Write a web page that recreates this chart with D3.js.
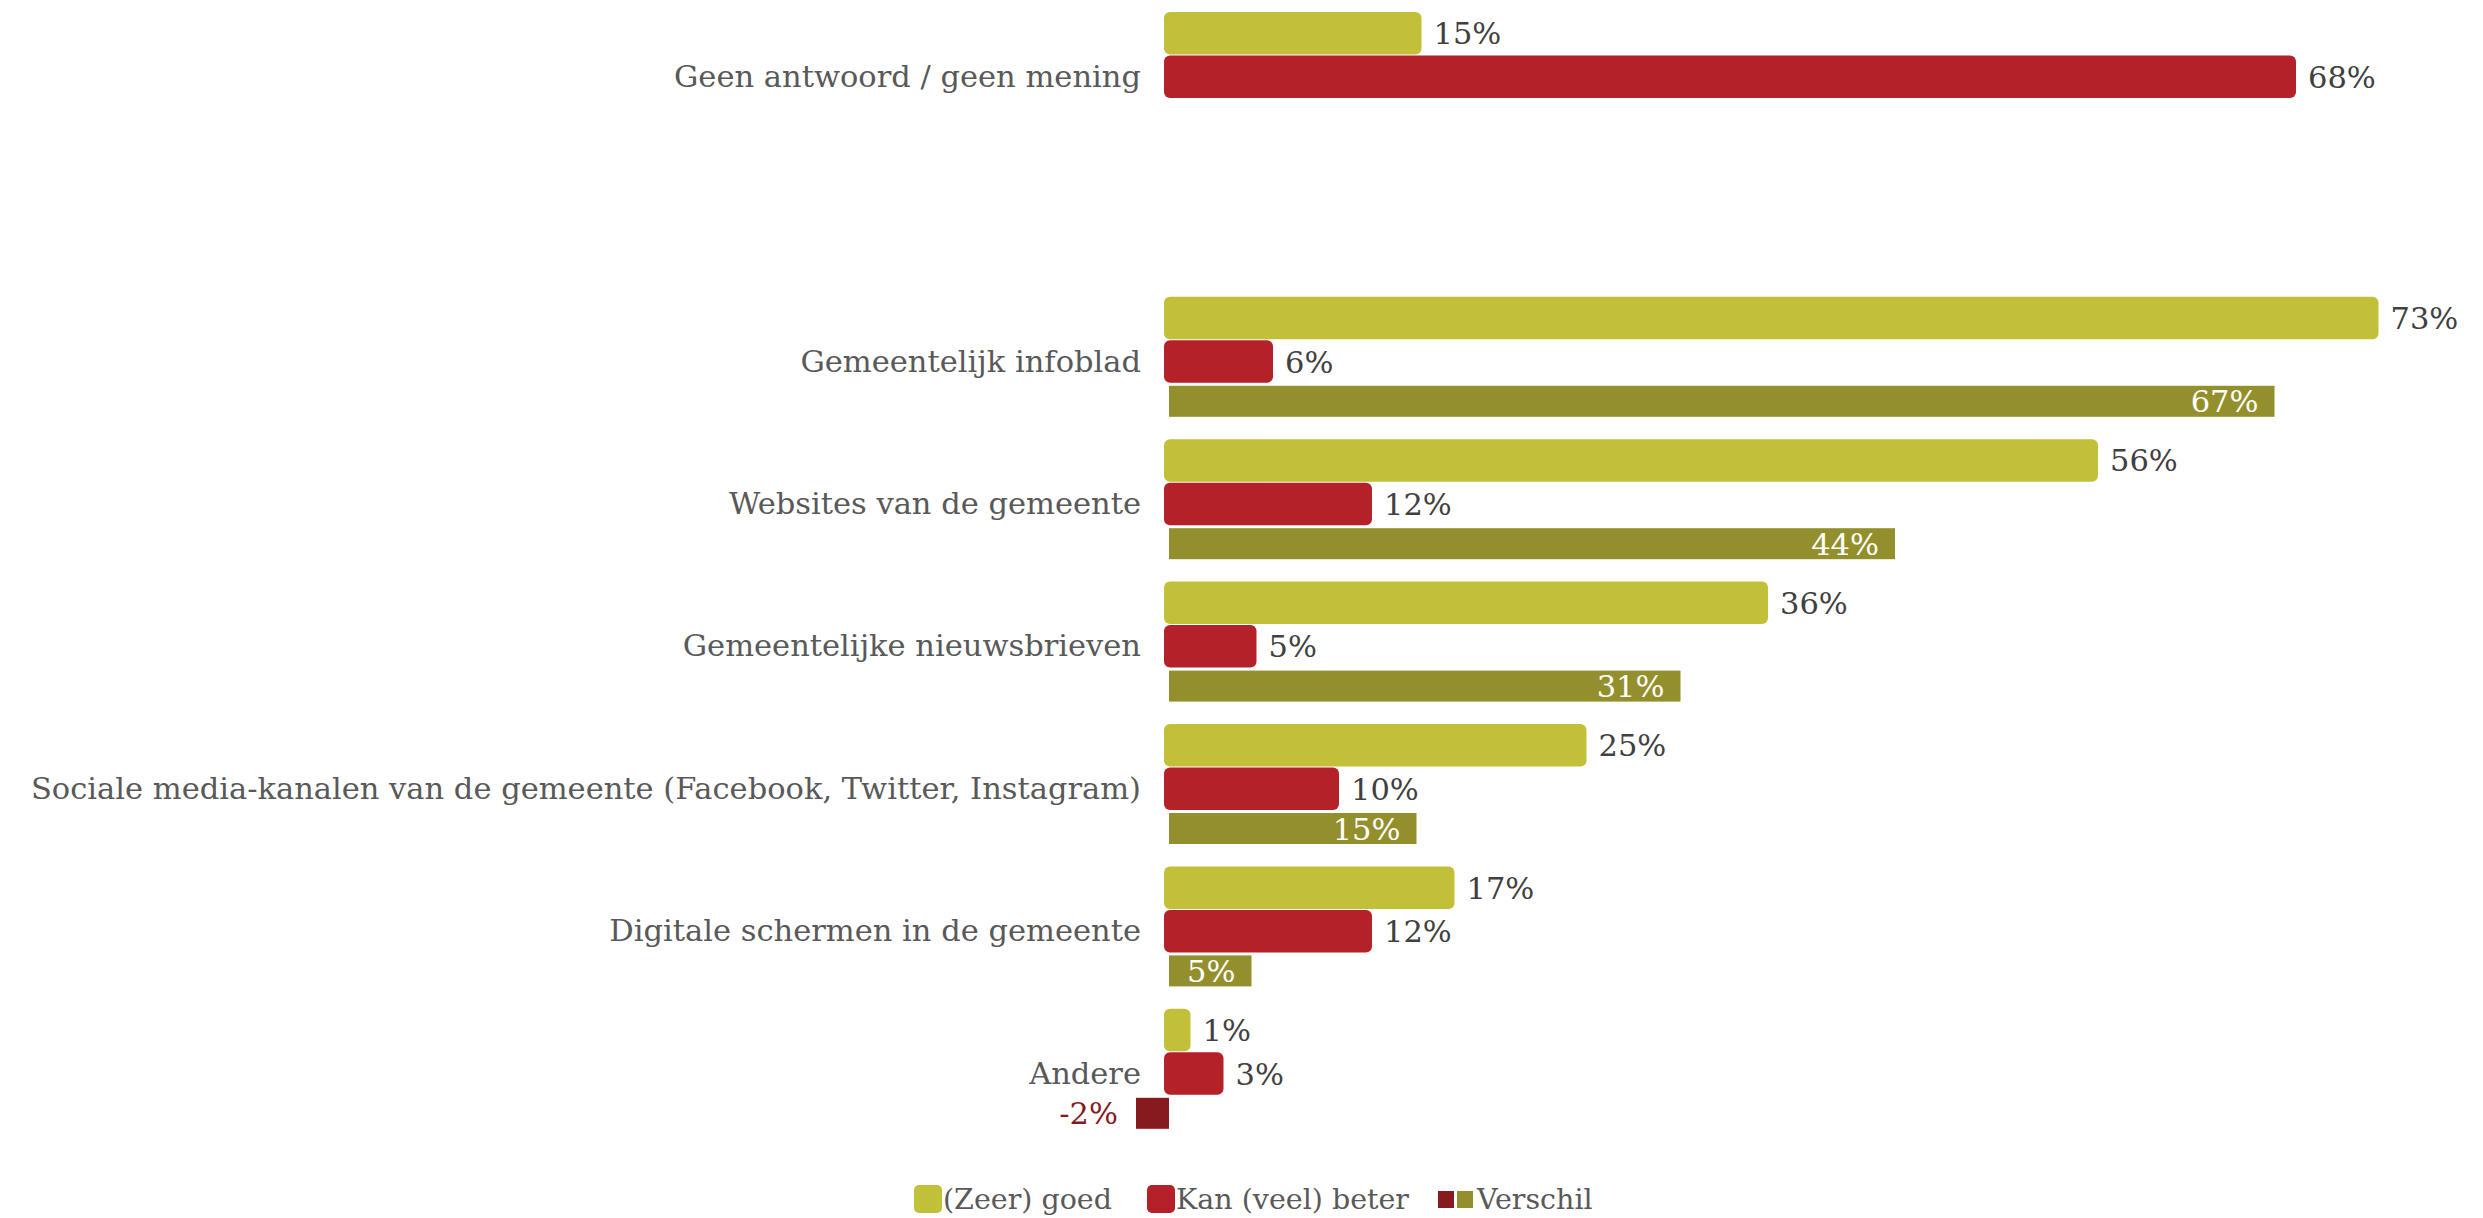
<!DOCTYPE html>
<html><head><meta charset="utf-8">
<script src="https://cdn.jsdelivr.net/npm/d3@7/dist/d3.min.js"></script>
<style>
html,body{margin:0;padding:0;background:#fff;}
svg{display:block;font-family:"DejaVu Serif",serif;}
</style></head>
<body>
<svg id="chart" width="2483" height="1218"></svg>
<script>
const categories = ["Geen antwoord / geen mening", "", "Gemeentelijk infoblad", "Websites van de gemeente", "Gemeentelijke nieuwsbrieven", "Sociale media-kanalen van de gemeente (Facebook, Twitter, Instagram)", "Digitale schermen in de gemeente", "Andere"];
const goed = [15, null, 73, 56, 36, 25, 17, 1];
const beter = [68, null, 6, 12, 5, 10, 12, 3];
const verschil = [null, null, 67, 44, 31, 15, 5, -2];
const seriesNames = ["(Zeer) goed", "Kan (veel) beter", "Verschil"];

const C = {goed:"#C2BF38", beter:"#B52129", vers:"#938F2C", neg:"#861A1E", label:"#595959", val:"#404040"};
const FS = 30.5;
const LFS = 28.5;
const svg = d3.select("#chart");

const x = d3.scaleLinear().domain([0, 100]).range([1169, 1169 + 1650]);
const y = d3.scaleBand().domain(categories).range([12, 12 + 8 * 142.4]).paddingInner(0).paddingOuter(0);
const sub = d3.scaleBand().domain(seriesNames).range([0, 130.5]);

const rows = categories.map((c, i) => ({c, g: goed[i], b: beter[i], v: verschil[i]}));

const g = svg.append("g");

// category labels
g.selectAll("text.cat").data(rows.filter(d => d.c !== "")).join("text")
  .attr("class", "cat")
  .attr("x", 1141)
  .attr("y", d => y(d.c) + sub(seriesNames[1]) + sub.bandwidth() / 2 - 1)
  .attr("text-anchor", "end").attr("dominant-baseline", "central")
  .attr("fill", C.label).attr("font-size", FS)
  .text(d => d.c);

function roundedBars(key, name, color) {
  const data = rows.filter(d => d[key] != null);
  g.selectAll("rect." + key).data(data).join("rect")
    .attr("class", key)
    .attr("x", x(0) - 5)
    .attr("y", d => y(d.c) + sub(name))
    .attr("width", d => x(d[key]) - x(0) + 10)
    .attr("height", sub.bandwidth() - 1)
    .attr("rx", 6).attr("ry", 6)
    .attr("fill", color);
  g.selectAll("text.v" + key).data(data).join("text")
    .attr("class", "v" + key)
    .attr("x", d => x(d[key]) + 17)
    .attr("y", d => y(d.c) + sub(name) + sub.bandwidth() / 2)
    .attr("dominant-baseline", "central")
    .attr("fill", C.val).attr("font-size", FS)
    .text(d => d[key] + "%");
}
roundedBars("g", seriesNames[0], C.goed);
roundedBars("b", seriesNames[1], C.beter);

// difference bars
const dd = rows.filter(d => d.v != null);
g.selectAll("rect.v").data(dd).join("rect")
  .attr("class", "v")
  .attr("x", d => Math.min(x(0), x(d.v)))
  .attr("y", d => y(d.c) + sub(seriesNames[2]) + 2)
  .attr("width", d => Math.abs(x(d.v) - x(0)))
  .attr("height", 31)
  .attr("fill", d => d.v < 0 ? C.neg : C.vers);
g.selectAll("text.vv").data(dd).join("text")
  .attr("class", "vv")
  .attr("x", d => d.v < 0 ? x(d.v) - 18 : x(d.v) - 16)
  .attr("y", d => y(d.c) + sub(seriesNames[2]) + 18)
  .attr("text-anchor", "end").attr("dominant-baseline", "central")
  .attr("fill", d => d.v < 0 ? C.neg : "#ffffff").attr("font-size", FS)
  .text(d => d.v + "%");

// legend
const lg = svg.append("g");
const ly = 1199;
lg.append("rect").attr("x", 914).attr("y", ly - 14).attr("width", 28).attr("height", 28).attr("rx", 5).attr("fill", C.goed);
lg.append("text").attr("x", 943).attr("y", ly).attr("dominant-baseline", "central").attr("fill", C.label).attr("font-size", LFS).text(seriesNames[0]);
lg.append("rect").attr("x", 1147).attr("y", ly - 14).attr("width", 28).attr("height", 28).attr("rx", 5).attr("fill", C.beter);
lg.append("text").attr("x", 1176).attr("y", ly).attr("dominant-baseline", "central").attr("fill", C.label).attr("font-size", LFS).text(seriesNames[1]);
lg.append("rect").attr("x", 1438).attr("y", ly - 8).attr("width", 16).attr("height", 17).attr("fill", C.neg);
lg.append("rect").attr("x", 1457).attr("y", ly - 8).attr("width", 16).attr("height", 17).attr("fill", C.vers);
lg.append("text").attr("x", 1477).attr("y", ly).attr("dominant-baseline", "central").attr("fill", C.label).attr("font-size", LFS).text(seriesNames[2]);
</script>
</body></html>
